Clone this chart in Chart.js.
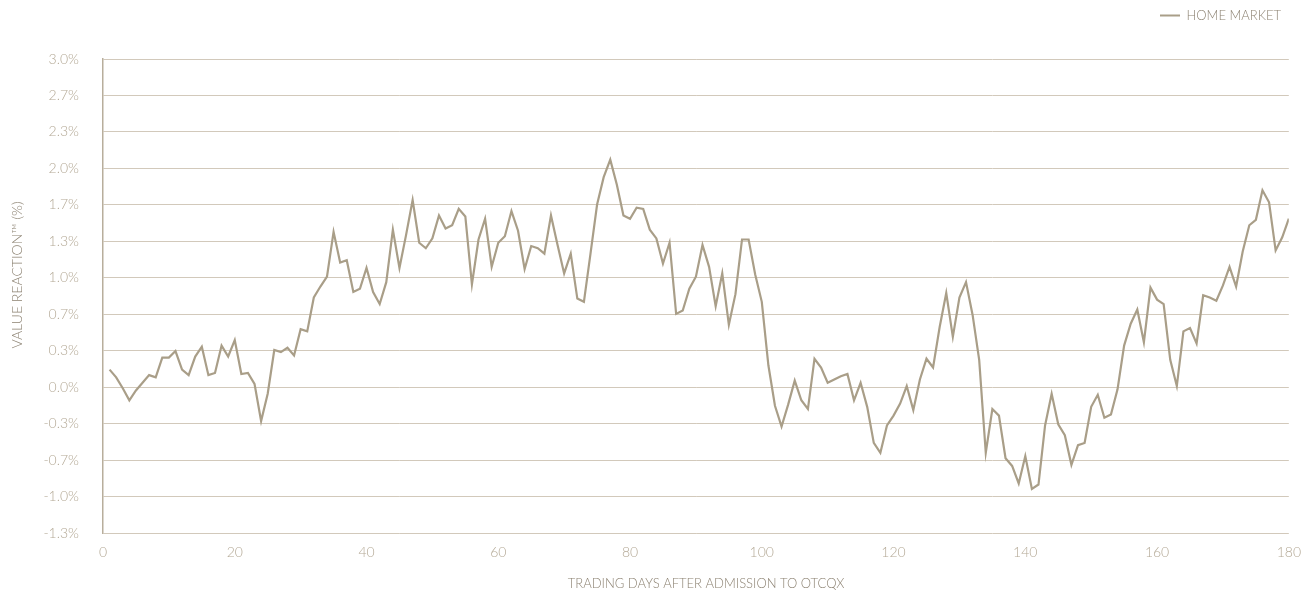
<!DOCTYPE html>
<html>
<head>
<meta charset="utf-8">
<script src="https://cdn.jsdelivr.net/npm/chart.js@4"></script>
<style>
html,body{margin:0;padding:0;background:#fff;}
#wrap{width:1304px;height:593px;}
</style>
</head>
<body>
<div id="wrap"><canvas id="c" width="1304" height="593"></canvas></div>
<script>
const seriesName = "HOME MARKET";
const days = Array.from({length: 180}, (_, i) => i + 1);
const homeMarket = [
  0.16, 0.09, -0.01, -0.12, -0.03, 0.04, 0.11, 0.09, 0.27, 0.27,
  0.33, 0.16, 0.11, 0.28, 0.37, 0.11, 0.13, 0.38, 0.28, 0.43,
  0.12, 0.13, 0.03, -0.31, -0.06, 0.34, 0.32, 0.36, 0.29, 0.53,
  0.51, 0.82, 0.92, 1.01, 1.42, 1.14, 1.16, 0.87, 0.90, 1.09,
  0.87, 0.76, 0.96, 1.44, 1.09, 1.39, 1.71, 1.32, 1.27, 1.36,
  1.57, 1.45, 1.48, 1.63, 1.56, 0.94, 1.35, 1.54, 1.10, 1.32,
  1.38, 1.61, 1.43, 1.08, 1.29, 1.27, 1.22, 1.57, 1.30, 1.04,
  1.22, 0.81, 0.78, 1.22, 1.67, 1.92, 2.08, 1.85, 1.57, 1.54,
  1.64, 1.63, 1.44, 1.36, 1.13, 1.32, 0.67, 0.70, 0.90, 1.01,
  1.30, 1.10, 0.74, 1.04, 0.57, 0.85, 1.35, 1.35, 1.03, 0.78,
  0.20, -0.17, -0.36, -0.16, 0.06, -0.12, -0.20, 0.26, 0.18, 0.04,
  0.07, 0.10, 0.12, -0.12, 0.04, -0.18, -0.51, -0.60, -0.35, -0.26,
  -0.15, 0.01, -0.21, 0.07, 0.26, 0.18, 0.55, 0.86, 0.46, 0.82,
  0.96, 0.66, 0.25, -0.60, -0.20, -0.26, -0.65, -0.72, -0.88, -0.63,
  -0.93, -0.89, -0.35, -0.06, -0.34, -0.44, -0.71, -0.53, -0.51, -0.18,
  -0.07, -0.28, -0.25, -0.02, 0.38, 0.58, 0.71, 0.41, 0.91, 0.80,
  0.76, 0.25, 0.01, 0.51, 0.54, 0.40, 0.84, 0.82, 0.79, 0.93,
  1.10, 0.92, 1.24, 1.48, 1.53, 1.80, 1.69, 1.25, 1.37, 1.54
];
const yTickValues = [-1.3333, -1.0, -0.6667, -0.3333, 0, 0.3333, 0.6667, 1.0, 1.3333, 1.6667, 2.0, 2.3333, 2.6667, 3.0];
const yTickLabels = ["-1.3%", "-1.0%", "-0.7%", "-0.3%", "0.0%", "0.3%", "0.7%", "1.0%", "1.3%", "1.7%", "2.0%", "2.3%", "2.7%", "3.0%"];
const xTickValues = [0, 20, 40, 60, 80, 100, 120, 140, 160, 180];
const xTitle = "TRADING DAYS AFTER ADMISSION TO OTCQX";
const yTitle = "VALUE REACTION\u2122 (%)";

const lineColor = '#a99e88';
const gridColor = '#d2c9bb';
const tickColor = '#b4a996';
const titleColor = '#8d8373';
const fontFamily = 'Lato, "Open Sans", sans-serif';

const legendSpacer = {
  id: 'legendSpacer',
  beforeInit(chart) {
    const lg = chart.legend;
    if (!lg || lg._spaced) return;
    const origFit = lg.fit;
    lg.fit = function () {
      origFit.call(this);
      this.height = 59;
    };
    lg._spaced = true;
  }
};

const axisTitles = {
  id: 'axisTitles',
  afterDraw(chart) {
    const ctx = chart.ctx;
    ctx.save();
    ctx.fillStyle = titleColor;
    ctx.textAlign = 'center';
    ctx.textBaseline = 'middle';
    ctx.font = '300 13px ' + fontFamily;
    ctx.fillText(xTitle, 706, 584);
    ctx.translate(17, 275);
    ctx.rotate(-Math.PI / 2);
    ctx.font = '300 14px ' + fontFamily;
    ctx.fillText(yTitle, 0, 0);
    ctx.restore();
  }
};

new Chart(document.getElementById('c'), {
  type: 'line',
  data: {
    datasets: [{
      label: seriesName,
      data: days.map((d, i) => ({x: d, y: homeMarket[i]})),
      borderColor: lineColor,
      backgroundColor: lineColor,
      borderWidth: 2.2,
      pointRadius: 0,
      tension: 0,
      fill: false
    }]
  },
  plugins: [legendSpacer, axisTitles],
  options: {
    responsive: false,
    animation: false,
    layout: {padding: {left: 0, right: 14, top: 0, bottom: 0}},
    plugins: {
      legend: {
        position: 'top',
        align: 'end',
        labels: {
          boxWidth: 20,
          boxHeight: 2,
          padding: 9,
          color: titleColor,
          font: {family: fontFamily, size: 13, weight: '300'},
          generateLabels: (chart) => [{
            text: seriesName, fillStyle: lineColor, strokeStyle: lineColor,
            lineWidth: 0, fontColor: titleColor, datasetIndex: 0, hidden: false
          }]
        }
      },
      tooltip: {enabled: false}
    },
    scales: {
      x: {
        type: 'linear',
        min: 0,
        max: 180,
        grid: {display: false},
        border: {display: false},
        afterBuildTicks: (s) => { s.ticks = xTickValues.map(v => ({value: v})); },
        afterFit: (s) => { s.height = 60; },
        ticks: {
          color: tickColor,
          padding: 3,
          maxRotation: 0,
          font: {family: fontFamily, size: 14, weight: '300'},
          callback: (v) => String(v)
        },
        title: {display: false}
      },
      y: {
        min: -1.3333,
        max: 3.0,
        grid: {color: gridColor, lineWidth: 1, drawTicks: false},
        border: {display: true, color: '#b8ae9c', width: 1.5},
        afterBuildTicks: (s) => { s.ticks = yTickValues.map(v => ({value: v})); },
        afterFit: (s) => { s.width = 103; },
        ticks: {
          color: tickColor,
          padding: 24,
          font: {family: fontFamily, size: 14, weight: '300'},
          callback: (v, i) => yTickLabels[i]
        },
        title: {display: false}
      }
    }
  }
});
</script>
</body>
</html>
